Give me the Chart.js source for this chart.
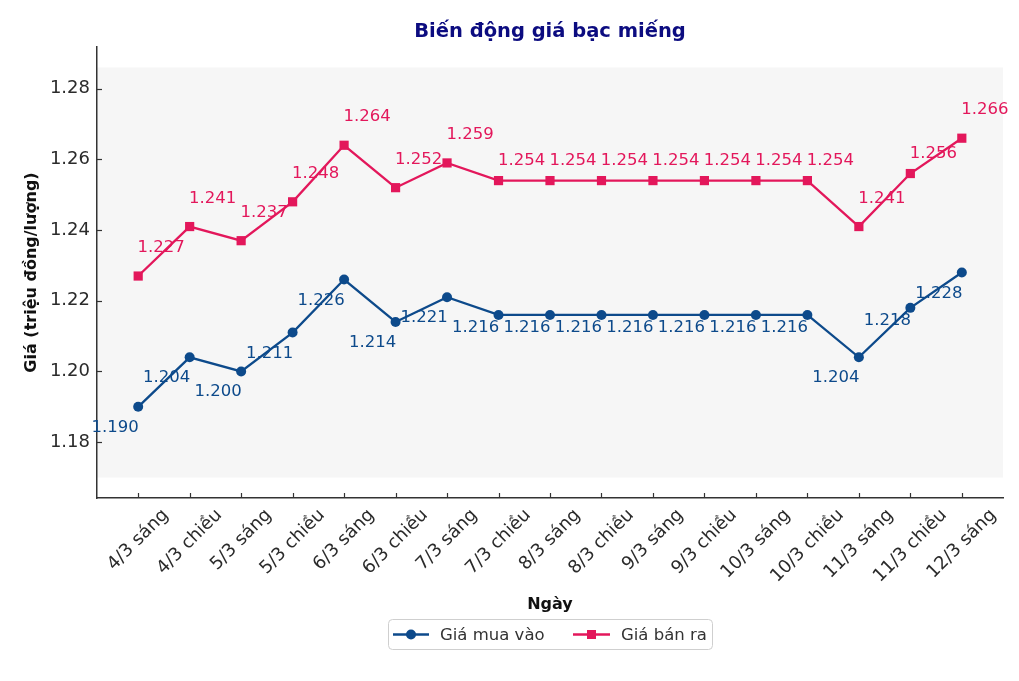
<!DOCTYPE html>
<html><head><meta charset="utf-8">
<script src="https://cdn.jsdelivr.net/npm/chart.js@4.4.1/dist/chart.umd.min.js"></script>
<style>html,body{margin:0;padding:0;background:#fff;}#wrap{width:1019px;height:681px;}</style>
</head><body><div id="wrap"><canvas id="c" width="1019" height="681"></canvas></div>
<script>
const categories = ["4/3 sáng","4/3 chiều","5/3 sáng","5/3 chiều","6/3 sáng","6/3 chiều","7/3 sáng","7/3 chiều","8/3 sáng","8/3 chiều","9/3 sáng","9/3 chiều","10/3 sáng","10/3 chiều","11/3 sáng","11/3 chiều","12/3 sáng"];
const buyPrices = [1.190,1.204,1.200,1.211,1.226,1.214,1.221,1.216,1.216,1.216,1.216,1.216,1.216,1.216,1.204,1.218,1.228];
const sellPrices = [1.227,1.241,1.237,1.248,1.264,1.252,1.259,1.254,1.254,1.254,1.254,1.254,1.254,1.254,1.241,1.256,1.266];
const yTickValues = [1.18,1.20,1.22,1.24,1.26,1.28];
const seriesNames = ["Giá mua vào","Giá bán ra"];
const titleText = "Biến động giá bạc miếng";
const xTitle = "Ngày";
const yTitle = "Giá (triệu đồng/lượng)";
const compactLabelIdx = [7,8,9,10,11,12,13,15];

const BUY_COLOR = "#0d4a8b";
const SELL_COLOR = "#e3175b";
const FONT = '"DejaVu Sans", sans-serif';

const bandLo = Math.min(...buyPrices) - 0.02;
const bandHi = Math.max(...sellPrices) + 0.02;
const margin = (bandHi - bandLo) * 0.05;
const yMin = bandLo - margin, yMax = bandHi + margin;
const xMin = -0.05 * (categories.length - 1), xMax = (categories.length - 1) * 1.05;

const decor = {
  id: 'decor',
  beforeDraw(chart) {
    const {ctx, chartArea: a, scales: {y}} = chart;
    ctx.save();
    ctx.fillStyle = '#fff';
    ctx.fillRect(0, 0, chart.width, chart.height);
    ctx.fillStyle = '#f6f6f6';
    const t = y.getPixelForValue(bandHi), b = y.getPixelForValue(bandLo);
    ctx.fillRect(a.left, t, a.right - a.left, b - t);
    ctx.restore();
  },
  afterDatasetsDraw(chart) {
    const {ctx, chartArea: a, scales: {x, y}} = chart;
    ctx.save();
    ctx.strokeStyle = '#333'; ctx.lineWidth = 1.2;
    categories.forEach((_, i) => {
      const px = Math.round(x.getPixelForValue(i)) + 0.5;
      ctx.beginPath(); ctx.moveTo(px, a.bottom); ctx.lineTo(px, a.bottom - 5); ctx.stroke();
    });
    yTickValues.forEach(v => {
      const py = Math.round(y.getPixelForValue(v)) + 0.5;
      ctx.beginPath(); ctx.moveTo(a.left, py); ctx.lineTo(a.left + 5, py); ctx.stroke();
    });
    ctx.font = '16.5px ' + FONT;
    ctx.textAlign = 'center'; ctx.textBaseline = 'alphabetic';
    chart.data.datasets.forEach((ds, di) => {
      const meta = chart.getDatasetMeta(di);
      ctx.fillStyle = ds.borderColor;
      meta.data.forEach((pt, i) => {
        const compact = compactLabelIdx.includes(i);
        const v = ds.data[i].y.toFixed(3);
        let dx, dy;
        if (di === 0) { dx = -23; dy = compact ? 11 : 19; }
        else { dx = 23; dy = compact ? -22 : -30; }
        ctx.fillText(v, pt.x + dx, pt.y + dy + 6);
      });
    });
    ctx.restore();
  },
  afterDraw(chart) {
    const {ctx, chartArea: a, scales: {x}} = chart;
    ctx.save();
    ctx.font = '18px ' + FONT;
    ctx.fillStyle = '#2b2b2b';
    ctx.textAlign = 'center'; ctx.textBaseline = 'middle';
    categories.forEach((lbl, i) => {
      const px = x.getPixelForValue(i);
      const w = ctx.measureText(lbl).width, h = 18 * 1.15;
      const half = (w + h) * Math.SQRT1_2 / 2;
      ctx.save();
      ctx.translate(px, a.bottom + 7 + half);
      ctx.rotate(-Math.PI / 4);
      ctx.fillText(lbl, 0, 0);
      ctx.restore();
    });
    const cx = (a.left + a.right) / 2;
    ctx.fillStyle = '#0c0c80';
    ctx.font = 'bold 19.5px ' + FONT;
    ctx.textAlign = 'center'; ctx.textBaseline = 'alphabetic';
    ctx.fillText(titleText, cx, 37);
    ctx.fillStyle = '#111';
    ctx.font = 'bold 16px ' + FONT;
    ctx.textBaseline = 'middle';
    ctx.fillText(xTitle, cx, 605);
    ctx.save();
    ctx.translate(32, (a.top + a.bottom) / 2);
    ctx.rotate(-Math.PI / 2);
    ctx.fillText(yTitle, 0, 0);
    ctx.restore();
    const lx = 388.5, ly = 619.5, lw = 324, lh = 30;
    ctx.beginPath();
    ctx.roundRect(lx, ly, lw, lh, 4);
    ctx.fillStyle = 'rgba(255,255,255,0.9)'; ctx.fill();
    ctx.strokeStyle = '#cfcfcf'; ctx.lineWidth = 1; ctx.stroke();
    const cy = ly + lh / 2;
    ctx.font = '16.5px ' + FONT;
    ctx.textAlign = 'left'; ctx.textBaseline = 'middle';
    ctx.strokeStyle = BUY_COLOR; ctx.lineWidth = 2.3;
    ctx.beginPath(); ctx.moveTo(393, cy); ctx.lineTo(429, cy); ctx.stroke();
    ctx.fillStyle = BUY_COLOR;
    ctx.beginPath(); ctx.arc(411, cy, 5, 0, Math.PI * 2); ctx.fill();
    ctx.fillStyle = '#333';
    ctx.fillText(seriesNames[0], 440, cy + 1);
    ctx.strokeStyle = SELL_COLOR;
    ctx.beginPath(); ctx.moveTo(573, cy); ctx.lineTo(610, cy); ctx.stroke();
    ctx.fillStyle = SELL_COLOR;
    ctx.fillRect(591.5 - 4.5, cy - 4.5, 9, 9);
    ctx.fillStyle = '#333';
    ctx.fillText(seriesNames[1], 621, cy + 1);
    ctx.restore();
  }
};

new Chart(document.getElementById('c'), {
  type: 'line',
  data: {
    datasets: [
      { label: seriesNames[0], data: buyPrices.map((v, i) => ({x: i, y: v})),
        borderColor: BUY_COLOR, backgroundColor: BUY_COLOR, borderWidth: 2.3,
        pointStyle: 'circle', pointRadius: 5, pointBackgroundColor: BUY_COLOR, pointBorderColor: BUY_COLOR, pointBorderWidth: 0, tension: 0 },
      { label: seriesNames[1], data: sellPrices.map((v, i) => ({x: i, y: v})),
        borderColor: SELL_COLOR, backgroundColor: SELL_COLOR, borderWidth: 2.3,
        pointStyle: 'rect', pointRadius: 6.5, pointBackgroundColor: SELL_COLOR, pointBorderColor: SELL_COLOR, pointBorderWidth: 0, tension: 0 }
    ]
  },
  options: {
    responsive: false, animation: false, devicePixelRatio: 1,
    layout: { padding: { top: 47, right: 16, left: 0, bottom: 0 } },
    plugins: { legend: { display: false }, title: { display: false }, tooltip: { enabled: false } },
    scales: {
      x: {
        type: 'linear', min: xMin, max: xMax,
        afterBuildTicks: s => { s.ticks = categories.map((_, i) => ({value: i})); },
        afterFit: s => { s.height = 183; },
        ticks: { display: false },
        grid: { display: false, drawTicks: false },
        border: { display: true, color: '#333', width: 1.5 }
      },
      y: {
        type: 'linear', min: yMin, max: yMax,
        afterBuildTicks: s => { s.ticks = yTickValues.map(v => ({value: v})); },
        afterFit: s => { s.width = 97; },
        ticks: { font: { family: FONT, size: 18 }, color: '#2b2b2b', padding: 7, callback: v => Number(v).toFixed(2) },
        grid: { display: false, drawTicks: false },
        border: { display: true, color: '#333', width: 1.5 }
      }
    }
  },
  plugins: [decor]
});
</script></body></html>
